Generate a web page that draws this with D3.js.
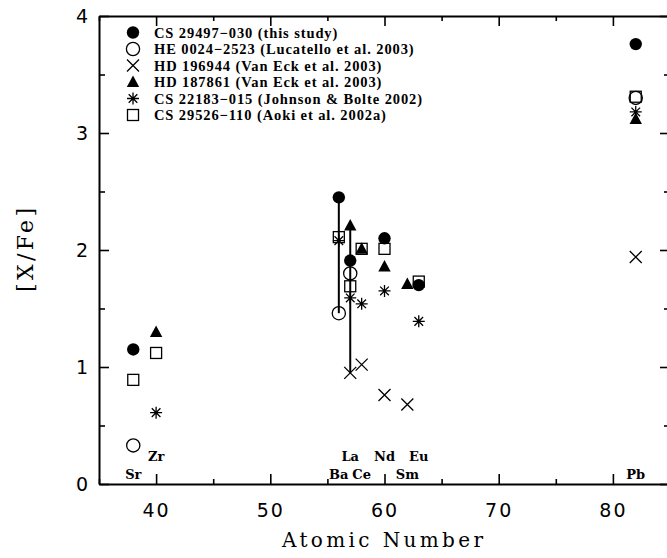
<!DOCTYPE html>
<html>
<head>
<meta charset="utf-8">
<script src="https://cdn.jsdelivr.net/npm/d3@7"></script>
<style>
  html, body { margin: 0; padding: 0; background: #fff; }
  svg { display: block; }
</style>
</head>
<body>
<svg id="chart" width="667" height="558"></svg>
<script>
// ---------------- DATA ----------------
const elements = ["Sr", "Zr", "Ba", "La", "Ce", "Nd", "Sm", "Eu", "Pb"];
const atomicNumbers = [38, 40, 56, 57, 58, 60, 62, 63, 82];

const seriesNames = [
  "CS 29497\u2212030 (this study)",
  "HE 0024\u22122523 (Lucatello et al. 2003)",
  "HD 196944 (Van Eck et al. 2003)",
  "HD 187861 (Van Eck et al. 2003)",
  "CS 22183\u2212015 (Johnson & Bolte 2002)",
  "CS 29526\u2212110 (Aoki et al. 2002a)"
];
const seriesSymbols = ["filledCircle", "openCircle", "cross", "filledTriangle", "asterisk", "openSquare"];

//                     Sr    Zr    Ba    La    Ce    Nd    Sm    Eu    Pb
const cs29497  = [1.15, null, 2.45, 1.91, null, 2.10, null, 1.70, 3.76];
const he0024   = [0.33, null, 1.46, 1.80, null, null, null, null, 3.30];
const hd196944 = [null, null, null, 0.95, 1.02, 0.76, 0.68, null, 1.94];
const hd187861 = [null, 1.30, null, 2.21, 2.01, 1.86, 1.71, null, 3.12];
const cs22183  = [null, 0.61, 2.08, 1.59, 1.54, 1.65, null, 1.39, 3.18];
const cs29526  = [0.89, 1.12, 2.11, 1.69, 2.01, 2.01, null, 1.73, 3.31];
const seriesValues = [cs29497, he0024, hd196944, hd187861, cs22183, cs29526];

// elements where a vertical range line joins the highest and lowest point
const rangeElements = ["Ba", "La"];

const xMajorTicks = [40, 50, 60, 70, 80];
const xMinorTicks = [35, 45, 55, 65, 75, 85];
const yMajorTicks = [0, 1, 2, 3, 4];
const yMinorTicks = [0.5, 1.5, 2.5, 3.5];

// ---------------- LAYOUT ----------------
const svg = d3.select("#chart");
const pL = 99, pR = 670, pT = 16, pB = 484;

const x = d3.scaleLinear().domain([35, 85]).range([pL, pR]);
const y = d3.scaleLinear().domain([0, 4]).range([pB, pT]);

const tickFont = "'DejaVu Sans', sans-serif";
const serifFont = "'DejaVu Serif', serif";

// ---------------- AXES ----------------
function styleAxis(g) {
  g.select(".domain").attr("stroke", "#000").attr("stroke-width", 2);
  g.selectAll(".tick line").attr("stroke", "#000").attr("stroke-width", 1.6);
}

// bottom
const gxMinor = svg.append("g").attr("transform", `translate(0,${pB})`)
  .call(d3.axisBottom(x).tickValues(xMinorTicks).tickSize(-5).tickSizeOuter(0).tickFormat(""));
styleAxis(gxMinor); gxMinor.select(".domain").remove();
const gx = svg.append("g").attr("transform", `translate(0,${pB})`)
  .call(d3.axisBottom(x).tickValues(xMajorTicks).tickSize(-10).tickSizeOuter(0).tickPadding(20).tickFormat(d3.format("d")));
styleAxis(gx);
gx.selectAll(".tick text").attr("font-family", tickFont).attr("font-size", 19)
  .attr("letter-spacing", 2).attr("fill", "#000");

// top
const gtMinor = svg.append("g").attr("transform", `translate(0,${pT})`)
  .call(d3.axisTop(x).tickValues(xMinorTicks).tickSize(-5).tickSizeOuter(0).tickFormat(""));
styleAxis(gtMinor); gtMinor.select(".domain").remove();
const gt = svg.append("g").attr("transform", `translate(0,${pT})`)
  .call(d3.axisTop(x).tickValues(xMajorTicks).tickSize(-10).tickSizeOuter(0).tickFormat(""));
styleAxis(gt);

// left
const gyMinor = svg.append("g").attr("transform", `translate(${pL},0)`)
  .call(d3.axisLeft(y).tickValues(yMinorTicks).tickSize(-6).tickSizeOuter(0).tickFormat(""));
styleAxis(gyMinor); gyMinor.select(".domain").remove();
const gy = svg.append("g").attr("transform", `translate(${pL},0)`)
  .call(d3.axisLeft(y).tickValues(yMajorTicks).tickSize(-10).tickSizeOuter(0).tickPadding(11).tickFormat(d3.format("d")));
styleAxis(gy);
gy.selectAll(".tick text").attr("font-family", tickFont).attr("font-size", 19).attr("fill", "#000");

// right
const grMinor = svg.append("g").attr("transform", `translate(${pR},0)`)
  .call(d3.axisRight(y).tickValues(yMinorTicks).tickSize(-6).tickSizeOuter(0).tickFormat(""));
styleAxis(grMinor); grMinor.select(".domain").remove();
const gr = svg.append("g").attr("transform", `translate(${pR},0)`)
  .call(d3.axisRight(y).tickValues(yMajorTicks).tickSize(-10).tickSizeOuter(0).tickFormat(""));
styleAxis(gr);

// axis titles
svg.append("text")
  .attr("x", (pL + pR) / 2 - 2).attr("y", 547)
  .attr("text-anchor", "middle")
  .attr("font-family", serifFont).attr("font-size", 20).attr("fill", "#000")
  .attr("textLength", 201).attr("lengthAdjust", "spacing")
  .text("Atomic Number");

svg.append("text")
  .attr("transform", `translate(33,${(pT + pB) / 2}) rotate(-90)`)
  .attr("text-anchor", "middle")
  .attr("font-family", serifFont).attr("font-size", 22).attr("fill", "#000")
  .attr("textLength", 84).attr("lengthAdjust", "spacing")
  .text("[X/Fe]");

// ---------------- ELEMENT LABELS ----------------
svg.append("g").selectAll("text").data(elements).join("text")
  .attr("x", (d, i) => x(atomicNumbers[i]))
  .attr("y", (d, i) => i % 2 === 0 ? 479 : 461)
  .attr("text-anchor", "middle")
  .attr("font-family", serifFont).attr("font-weight", "bold").attr("font-size", 13)
  .attr("fill", "#000")
  .text(d => d);

// ---------------- RANGE LINES ----------------
const rangeData = rangeElements.map(el => {
  const i = elements.indexOf(el);
  const vals = seriesValues.map(s => s[i]).filter(v => v != null);
  return { z: atomicNumbers[i], hi: d3.max(vals), lo: d3.min(vals) };
});
svg.append("g").selectAll("line").data(rangeData).join("line")
  .attr("x1", d => x(d.z)).attr("x2", d => x(d.z))
  .attr("y1", d => y(d.hi)).attr("y2", d => y(d.lo))
  .attr("stroke", "#000").attr("stroke-width", 2);

// ---------------- SYMBOLS ----------------
function drawSymbol(g, type, cx, cy) {
  const s = 6;
  switch (type) {
    case "filledCircle":
      g.append("circle").attr("cx", cx).attr("cy", cy).attr("r", 6.2).attr("fill", "#000");
      break;
    case "openCircle":
      g.append("circle").attr("cx", cx).attr("cy", cy).attr("r", 6.6)
        .attr("fill", "none").attr("stroke", "#000").attr("stroke-width", 1.3);
      break;
    case "cross":
      g.append("path").attr("d", `M${cx - s},${cy - s}L${cx + s},${cy + s}M${cx - s},${cy + s}L${cx + s},${cy - s}`)
        .attr("stroke", "#000").attr("stroke-width", 1.3).attr("fill", "none");
      break;
    case "filledTriangle":
      g.append("path").attr("d", `M${cx},${cy - 6.5}L${cx + 6.2},${cy + 5}L${cx - 6.2},${cy + 5}Z`).attr("fill", "#000");
      break;
    case "asterisk": {
      const d = s * 0.72;
      g.append("path").attr("d",
        `M${cx},${cy - s}L${cx},${cy + s}M${cx - s},${cy}L${cx + s},${cy}` +
        `M${cx - d},${cy - d}L${cx + d},${cy + d}M${cx - d},${cy + d}L${cx + d},${cy - d}`)
        .attr("stroke", "#000").attr("stroke-width", 1.3).attr("fill", "none");
      break;
    }
    case "openSquare":
      g.append("rect").attr("x", cx - 5.5).attr("y", cy - 5.5).attr("width", 11).attr("height", 11)
        .attr("fill", "none").attr("stroke", "#000").attr("stroke-width", 1.3);
      break;
  }
}

const pts = svg.append("g");
seriesValues.forEach((vals, si) => {
  vals.forEach((v, i) => {
    if (v == null) return;
    drawSymbol(pts, seriesSymbols[si], x(atomicNumbers[i]), y(v));
  });
});

// ---------------- LEGEND ----------------
const legend = svg.append("g");
const legendY0 = 32.5, legendDy = 16.5;
seriesNames.forEach((name, i) => {
  const cy = legendY0 + i * legendDy;
  drawSymbol(legend, seriesSymbols[i], 133, cy);
  legend.append("text")
    .attr("x", 154).attr("y", cy).attr("dy", "0.36em")
    .attr("font-family", "'Liberation Serif', serif").attr("font-weight", "bold").attr("font-size", 14.5)
    .attr("letter-spacing", 0.9).attr("fill", "#000")
    .text(name);
});
</script>
</body>
</html>
